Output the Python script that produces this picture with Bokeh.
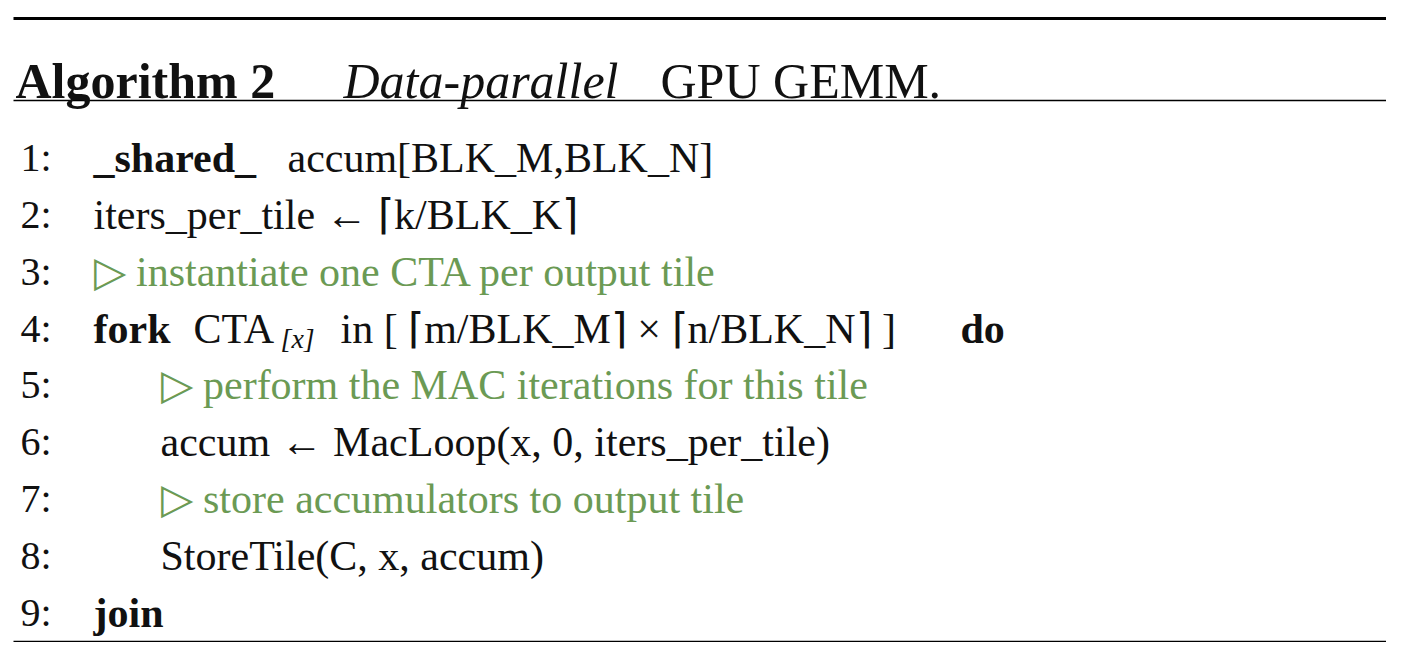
from bokeh.plotting import figure
from bokeh.models import Range1d
from bokeh.core.properties import value
from bokeh.embed import file_html
from bokeh.resources import INLINE

FONT = "Liberation Serif"
BLACK = "#111111"
GREEN = "#6b9a54"

# title segments: text, x, style
title_text = ["Algorithm 2", "Data-parallel", "GPU GEMM."]
title_x = [15, 343, 660]
title_style = ["bold", "italic", "normal"]
title_y = 80

# line numbers and baselines
line_no = ["1:", "2:", "3:", "4:", "5:", "6:", "7:", "8:", "9:"]
line_y = [157, 214, 271, 328, 384, 441, 498, 555, 612]

# body segments
seg_line = [0, 0, 1, 2, 3, 3, 3, 3, 3, 4, 5, 6, 7, 8]
seg_x = [93, 287, 93, 93, 93, 193, 280, 340, 960, 160, 160, 160, 160, 93]
seg_text = ["_shared_", "accum[BLK_M,BLK_N]", "iters_per_tile \u2190 \u2308k/BLK_K\u2309",
            "\u25b7 instantiate one CTA per output tile",
            "fork", "CTA", "[x]", "in [ \u2308m/BLK_M\u2309 \u00d7 \u2308n/BLK_N\u2309 ]", "do",
            "\u25b7 perform the MAC iterations for this tile",
            "accum \u2190 MacLoop(x, 0, iters_per_tile)",
            "\u25b7 store accumulators to output tile",
            "StoreTile(C, x, accum)", "join"]
seg_style = ["bold", "normal", "normal", "normal", "bold", "normal", "italic", "normal",
             "bold", "normal", "normal", "normal", "normal", "bold"]
seg_color = [BLACK, BLACK, BLACK, GREEN, BLACK, BLACK, BLACK, BLACK, BLACK,
             GREEN, BLACK, GREEN, BLACK, BLACK]
seg_dy = [0, 0, 0, 0, 0, 0, 10, 0, 0, 0, 0, 0, 0, 0]
seg_size = ["42px"] * 6 + ["28px"] + ["42px"] * 7

p = figure(width=1386, height=642, output_backend="svg", toolbar_location=None,
           x_range=Range1d(0, 1386), y_range=Range1d(642, 0), min_border=0)
p.axis.visible = False
p.grid.visible = False
p.outline_line_color = None
p.background_fill_color = "white"

# rules
p.segment(x0=[13], y0=[18], x1=[1390], y1=[18], line_color="black", line_width=3)
p.segment(x0=[13, 13], y0=[100, 641], x1=[1390, 1390], y1=[100, 641],
          line_color="black", line_width=1.5)

for t, x, s in zip(title_text, title_x, title_style):
    p.text(x=[x], y=[title_y], text=[t], text_font=value(FONT), text_font_size="50px",
           text_font_style=s, text_color=BLACK, text_baseline="alphabetic")

p.text(x=[20] * len(line_no), y=line_y, text=line_no, text_font=value(FONT),
       text_font_size="40px", text_color=BLACK, text_baseline="alphabetic")

for i in range(len(seg_text)):
    p.text(x=[seg_x[i]], y=[line_y[seg_line[i]] + seg_dy[i]], text=[seg_text[i]],
           text_font=value(FONT), text_font_size=seg_size[i], text_font_style=seg_style[i],
           text_color=seg_color[i], text_baseline="alphabetic")

open("out.html", "w").write(file_html(p, INLINE))
